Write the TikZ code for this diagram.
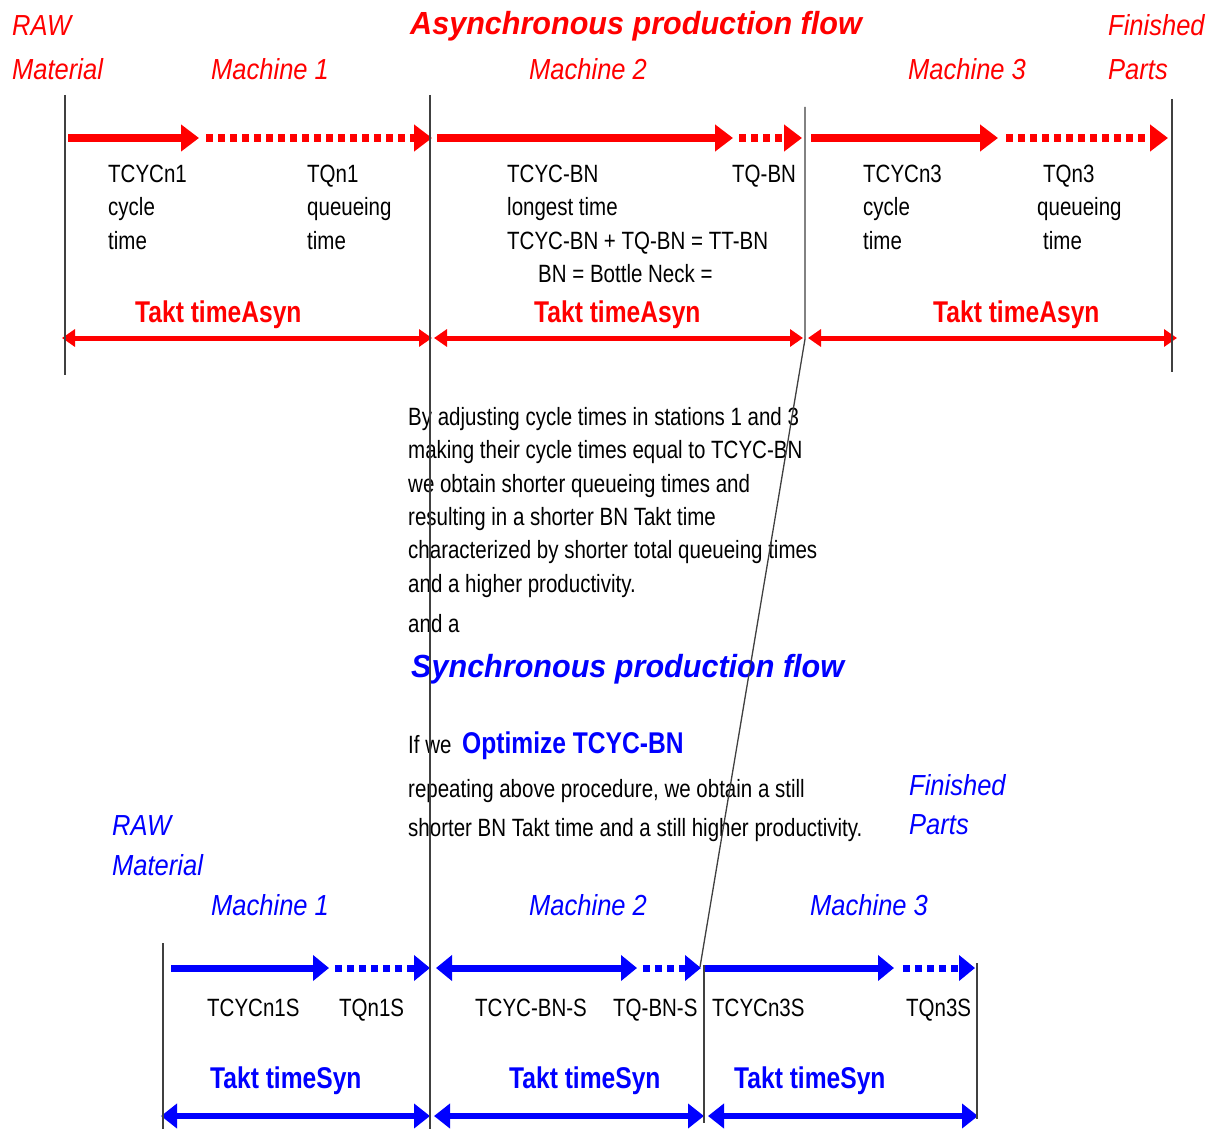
\documentclass[tikz,border=0pt]{standalone}
\usepackage{fontspec}
\usetikzlibrary{arrows.meta}
% condensed sans faces used throughout
\newfontfamily\bodyfont[FakeStretch=0.82]{Liberation Sans}
\newfontfamily\labelfont[FakeStretch=0.88]{Liberation Sans}
\newfontfamily\titlefont[FakeStretch=0.955]{Liberation Sans}
\newfontfamily\taktfont[FakeStretch=0.82]{Liberation Sans}
\definecolor{flowred}{RGB}{255,0,0}
\definecolor{flowblue}{RGB}{0,0,255}

\begin{document}
\begin{tikzpicture}[x=1pt,y=-1pt,
  body/.style={anchor=base west,inner sep=0pt,text=black,
    font=\bodyfont\fontsize{25}{30}\selectfont},
  lab/.style={anchor=base west,inner sep=0pt,
    font=\labelfont\itshape\fontsize{29}{34}\selectfont},
  title/.style={anchor=base west,inner sep=0pt,
    font=\titlefont\bfseries\itshape\fontsize{32}{38}\selectfont},
  takt/.style={anchor=base west,inner sep=0pt,
    font=\taktfont\bfseries\fontsize{30}{36}\selectfont},
  cyc/.style={line width=8pt,-{Triangle[length=18pt,width=26pt]}},
  que/.style={line width=8pt,dash pattern=on 7pt off 5pt,-{Triangle[length=18pt,width=26pt]}},
  span/.style={line width=5pt,{Triangle[length=13pt,width=17pt]}-{Triangle[length=13pt,width=17pt]}},
  bspan/.style={line width=6.5pt,{Triangle[length=16pt,width=24pt]}-{Triangle[length=16pt,width=24pt]}},
  sep/.style={draw=black!75,line width=1.3pt},
]
\useasboundingbox[fill=white] (0,0) rectangle (1215,1129);

% ---------- asynchronous flow: arrow end points ----------
\coordinate (a1s) at (68,138);  \coordinate (a1m) at (199,138);
\coordinate (a1q) at (206,138); \coordinate (a1e) at (432,138);
\coordinate (a2s) at (437,138); \coordinate (a2m) at (733,138);
\coordinate (a2q) at (739,138); \coordinate (a2e) at (802,138);
\coordinate (a3s) at (811,138); \coordinate (a3m) at (998,138);
\coordinate (a3q) at (1006,138);\coordinate (a3e) at (1168,138);
\coordinate (t1l) at (62,338);  \coordinate (t1r) at (432,338);
\coordinate (t2l) at (434,338); \coordinate (t2r) at (803,338);
\coordinate (t3l) at (808,338); \coordinate (t3r) at (1177,338);

\begin{scope}[color=flowred]
\draw[cyc] (a1s) -- (a1m);
\draw[que] (a1q) -- (a1e);
\draw[cyc] (a2s) -- (a2m);
\draw[que] (a2q) -- (a2e);
\draw[cyc] (a3s) -- (a3m);
\draw[que] (a3q) -- (a3e);
\draw[span] (t1l) -- (t1r);
\draw[span] (t2l) -- (t2r);
\draw[span] (t3l) -- (t3r);
\end{scope}

% ---------- synchronous flow: arrow end points ----------
\coordinate (b1s) at (171,968); \coordinate (b1m) at (329,968);
\coordinate (b1q) at (335,968); \coordinate (b1e) at (430,968);
\coordinate (b2s) at (436,968); \coordinate (b2m) at (637,968);
\coordinate (b2q) at (643,968); \coordinate (b2e) at (701,968);
\coordinate (b3s) at (705,968); \coordinate (b3m) at (894,968);
\coordinate (b3q) at (903,968); \coordinate (b3e) at (975,968);
\coordinate (s1l) at (161,1116); \coordinate (s1r) at (430,1116);
\coordinate (s2l) at (434,1116); \coordinate (s2r) at (704,1116);
\coordinate (s3l) at (708,1116); \coordinate (s3r) at (978,1116);

\begin{scope}[color=flowblue]
\draw[line width=7pt,-{Triangle[length=16pt,width=25pt]}] (b1s) -- (b1m);
\draw[line width=7pt,dash pattern=on 7pt off 5pt,-{Triangle[length=16pt,width=25pt]}] (b1q) -- (b1e);
\draw[line width=7pt,{Triangle[length=16pt,width=25pt]}-{Triangle[length=16pt,width=25pt]}] (b2s) -- (b2m);
\draw[line width=7pt,dash pattern=on 7pt off 5pt,-{Triangle[length=16pt,width=25pt]}] (b2q) -- (b2e);
\draw[line width=7pt,-{Triangle[length=16pt,width=25pt]}] (b3s) -- (b3m);
\draw[line width=7pt,dash pattern=on 7pt off 5pt,-{Triangle[length=16pt,width=25pt]}] (b3q) -- (b3e);
\draw[bspan] (s1l) -- (s1r);
\draw[bspan] (s2l) -- (s2r);
\draw[bspan] (s3l) -- (s3r);
\end{scope}

% ---------- headings and labels, asynchronous ----------
\node[lab,text=flowred] (rawA) at (12,36) {RAW};
\node[lab,text=flowred] (matA) at (12,80) {Material};
\node[title,text=flowred] (asyn) at (410,35) {Asynchronous production flow};
\node[lab,text=flowred] (finA) at (1108,36) {Finished};
\node[lab,text=flowred] (partA) at (1108,80) {Parts};
\node[lab,text=flowred] (m1A) at (211,80) {Machine 1};
\node[lab,text=flowred] (m2A) at (529,80) {Machine 2};
\node[lab,text=flowred] (m3A) at (908,80) {Machine 3};

\node[body] (c1a) at (108,182) {TCYCn1};
\node[body] (c1b) at (108,215.5) {cycle};
\node[body] (c1c) at (108,249) {time};
\node[body] (q1a) at (307,182) {TQn1};
\node[body] (q1b) at (307,215.5) {queueing};
\node[body] (q1c) at (307,249) {time};
\node[body] (c2a) at (507,182) {TCYC-BN};
\node[body] (c2b) at (507,215.5) {longest time};
\node[body] (c2c) at (507,249) {TCYC-BN + TQ-BN = TT-BN};
\node[body] (c2d) at (538,282) {BN = Bottle Neck =};
\node[body] (q2a) at (732,182) {TQ-BN};
\node[body] (c3a) at (863,182) {TCYCn3};
\node[body] (c3b) at (863,215.5) {cycle};
\node[body] (c3c) at (863,249) {time};
\node[body] (q3a) at (1043,182) {TQn3};
\node[body] (q3b) at (1037,215.5) {queueing};
\node[body] (q3c) at (1043,249) {time};

\node[takt,text=flowred] (ta1) at (135,322) {Takt timeAsyn};
\node[takt,text=flowred] (ta2) at (534,322) {Takt timeAsyn};
\node[takt,text=flowred] (ta3) at (933,322) {Takt timeAsyn};

% ---------- explanation ----------
\node[body] (e1) at (408,425) {By adjusting cycle times in stations 1 and 3};
\node[body] (e2) at (408,458.5) {making their cycle times equal to TCYC-BN};
\node[body] (e3) at (408,492) {we obtain shorter queueing times and};
\node[body] (e4) at (408,525) {resulting in a shorter BN Takt time};
\node[body] (e5) at (408,558.5) {characterized by shorter total queueing times};
\node[body] (e6) at (408,592) {and a higher productivity.};
\node[body] (e7) at (408,632) {and a};
\node[title,text=flowblue] (syn) at (411,677) {Synchronous production flow};
\node[body] (e8) at (408,753) {If we};
\node[takt,text=flowblue] (opt) at (462,753) {Optimize TCYC-BN};
\node[body] (e9) at (408,797) {repeating above procedure, we obtain a still};
\node[body] (e10) at (408,836) {shorter BN Takt time and a still higher productivity.};

% ---------- headings and labels, synchronous ----------
\node[lab,text=flowblue] (rawS) at (112,835) {RAW};
\node[lab,text=flowblue] (matS) at (112,875) {Material};
\node[lab,text=flowblue] (finS) at (909,795) {Finished};
\node[lab,text=flowblue] (partS) at (909,834) {Parts};
\node[lab,text=flowblue] (m1S) at (211,915) {Machine 1};
\node[lab,text=flowblue] (m2S) at (529,915) {Machine 2};
\node[lab,text=flowblue] (m3S) at (810,915) {Machine 3};

\node[body] (c1s) at (207,1016) {TCYCn1S};
\node[body] (q1s) at (339,1016) {TQn1S};
\node[body] (c2s) at (475,1016) {TCYC-BN-S};
\node[body] (q2s) at (613,1016) {TQ-BN-S};
\node[body] (c3s) at (712,1016) {TCYCn3S};
\node[body] (q3s) at (906,1016) {TQn3S};

\node[takt,text=flowblue] (ts1) at (210,1088) {Takt timeSyn};
\node[takt,text=flowblue] (ts2) at (509,1088) {Takt timeSyn};
\node[takt,text=flowblue] (ts3) at (734,1088) {Takt timeSyn};

% ---------- station boundaries ----------
\coordinate (v1t) at (65,95);    \coordinate (v1b) at (65,375);
\coordinate (v2t) at (430,95);   \coordinate (v2b) at (430,1129);
\coordinate (v3t) at (805,107);  \coordinate (v3k) at (805,339);
\coordinate (v3s) at (700,967);
\coordinate (v4t) at (704,965);  \coordinate (v4b) at (704,1123);
\coordinate (v5t) at (1172,99);  \coordinate (v5b) at (1172,372);
\coordinate (v6t) at (163,943);  \coordinate (v6b) at (163,1129);
\coordinate (v7t) at (977,963);  \coordinate (v7b) at (977,1119);
\draw[sep] (v1t) -- (v1b);
\draw[sep] (v2t) -- (v2b);
\draw[sep] (v3t) -- (v3k) -- (v3s);
\draw[sep] (v4t) -- (v4b);
\draw[sep] (v5t) -- (v5b);
\draw[sep] (v6t) -- (v6b);
\draw[sep] (v7t) -- (v7b);
\end{tikzpicture}
\end{document}
